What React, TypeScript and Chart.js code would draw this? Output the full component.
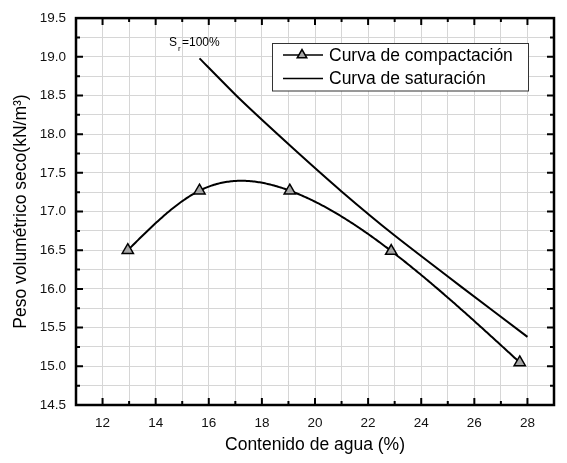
import React, { useEffect, useRef } from "react";
import { Chart, registerables } from "chart.js";

Chart.register(...registerables);

const FONT = "'Liberation Sans', Arial, sans-serif";

// Curva de compactación (contenido de agua %, peso volumétrico seco kN/m³)
const compactionW = [12.95, 15.65, 19.05, 22.87, 27.71];
const compactionG = [16.5, 17.27, 17.27, 16.49, 15.05];

// Curva de saturación (Sr = 100%)
const saturationW = [15.65, 17.15, 19.1, 21.0, 23.0, 25.5, 28.0];
const saturationG = [18.98, 18.46, 17.84, 17.26, 16.69, 16.03, 15.38];

const xTickLabels = [12, 14, 16, 18, 20, 22, 24, 26, 28];
const yTickLabels = [14.5, 15.0, 15.5, 16.0, 16.5, 17.0, 17.5, 18.0, 18.5, 19.0, 19.5];

const legendLabels = ["Curva de compactación", "Curva de saturación"];
const xTitle = "Contenido de agua (%)";
const yTitle = "Peso volumétrico seco(kN/m³)";

const MARKER_FILL = "#a6a6a6";

function drawTriangle(ctx: CanvasRenderingContext2D, x: number, y: number, r: number) {
  const edge = (3 * r) / Math.sqrt(3);
  const h = (edge * Math.sqrt(3)) / 2;
  ctx.beginPath();
  ctx.moveTo(x - edge / 2, y + h / 3);
  ctx.lineTo(x + edge / 2, y + h / 3);
  ctx.lineTo(x, y - (2 * h) / 3);
  ctx.closePath();
  ctx.fillStyle = MARKER_FILL;
  ctx.fill();
  ctx.lineWidth = 1.5;
  ctx.strokeStyle = "#000";
  ctx.stroke();
}

// natural cubic spline through the compaction points (in data space)
function naturalSpline(xs: number[], ys: number[]) {
  const n = xs.length;
  const h: number[] = [];
  for (let i = 0; i < n - 1; i++) h.push(xs[i + 1] - xs[i]);
  const M = new Array(n).fill(0);
  const a: number[] = [], b: number[] = [], c: number[] = [], d: number[] = [];
  for (let i = 1; i < n - 1; i++) {
    a.push(h[i - 1]);
    b.push(2 * (h[i - 1] + h[i]));
    c.push(h[i]);
    d.push(6 * ((ys[i + 1] - ys[i]) / h[i] - (ys[i] - ys[i - 1]) / h[i - 1]));
  }
  const m = b.length;
  for (let i = 1; i < m; i++) {
    const w = a[i] / b[i - 1];
    b[i] -= w * c[i - 1];
    d[i] -= w * d[i - 1];
  }
  const sol = new Array(m).fill(0);
  for (let i = m - 1; i >= 0; i--) {
    sol[i] = (d[i] - (i < m - 1 ? c[i] * sol[i + 1] : 0)) / b[i];
  }
  for (let i = 0; i < m; i++) M[i + 1] = sol[i];
  return (x: number) => {
    let i = 0;
    while (i < n - 2 && x > xs[i + 1]) i++;
    const hi = h[i];
    const t1 = xs[i + 1] - x;
    const t0 = x - xs[i];
    return (
      (M[i] * t1 * t1 * t1) / (6 * hi) +
      (M[i + 1] * t0 * t0 * t0) / (6 * hi) +
      (ys[i] / hi - (M[i] * hi) / 6) * t1 +
      (ys[i + 1] / hi - (M[i + 1] * hi) / 6) * t0
    );
  };
}

const splinePlugin = {
  id: "splinePlugin",
  beforeDatasetsDraw(chart: any) {
    const ctx: CanvasRenderingContext2D = chart.ctx;
    const xs = chart.scales.x;
    const ys = chart.scales.y;
    const f = naturalSpline(compactionW, compactionG);
    const x0 = compactionW[0];
    const x1 = compactionW[compactionW.length - 1];
    ctx.save();
    ctx.beginPath();
    const N = 300;
    for (let k = 0; k <= N; k++) {
      const x = x0 + ((x1 - x0) * k) / N;
      const px = xs.getPixelForValue(x);
      const py = ys.getPixelForValue(f(x));
      if (k === 0) ctx.moveTo(px, py);
      else ctx.lineTo(px, py);
    }
    ctx.strokeStyle = "#000";
    ctx.lineWidth = 2;
    ctx.lineJoin = "round";
    ctx.stroke();
    ctx.restore();
  },
};

const framePlugin = {
  id: "framePlugin",
  afterDraw(chart: any) {
    const ctx: CanvasRenderingContext2D = chart.ctx;
    const { left, right, top, bottom } = chart.chartArea;
    const xs = chart.scales.x;
    const ys = chart.scales.y;
    ctx.save();

    // tick marks on all four sides, pointing inward
    ctx.strokeStyle = "#000";
    ctx.lineWidth = 2;
    ctx.lineCap = "butt";
    for (let v = 12; v <= 28; v += 1) {
      const px = xs.getPixelForValue(v);
      const len = v % 2 === 0 ? 7 : 4;
      ctx.beginPath();
      ctx.moveTo(px, bottom);
      ctx.lineTo(px, bottom - len);
      ctx.moveTo(px, top);
      ctx.lineTo(px, top + len);
      ctx.stroke();
    }
    for (let i = 1; i < 20; i++) {
      const v = 14.5 + i * 0.25;
      const py = ys.getPixelForValue(v);
      const len = i % 2 === 0 ? 7 : 4;
      ctx.beginPath();
      ctx.moveTo(left, py);
      ctx.lineTo(left + len, py);
      ctx.moveTo(right, py);
      ctx.lineTo(right - len, py);
      ctx.stroke();
    }

    // frame
    ctx.lineWidth = 2.5;
    ctx.strokeRect(left, top, right - left, bottom - top);

    // S_r = 100% label
    ctx.fillStyle = "#000";
    ctx.textBaseline = "alphabetic";
    ctx.textAlign = "left";
    ctx.font = `12px ${FONT}`;
    ctx.fillText("S", 169, 46);
    ctx.font = `8px ${FONT}`;
    ctx.fillText("r", 178, 51);
    ctx.font = `12px ${FONT}`;
    ctx.fillText("=100%", 182, 46);

    // legend
    const bx = 272.5, by = 43.5, bw = 256, bh = 47.5;
    ctx.fillStyle = "#fff";
    ctx.fillRect(bx, by, bw, bh);
    ctx.lineWidth = 1;
    ctx.strokeStyle = "#333";
    ctx.strokeRect(bx, by, bw, bh);

    const rows = [55, 78.5];
    rows.forEach((ry, i) => {
      ctx.strokeStyle = "#000";
      ctx.lineWidth = 1.5;
      ctx.beginPath();
      ctx.moveTo(283, ry);
      ctx.lineTo(323, ry);
      ctx.stroke();
      if (i === 0) drawTriangle(ctx, 302, ry, 5.5);
      ctx.fillStyle = "#000";
      ctx.font = `17.5px ${FONT}`;
      ctx.textBaseline = "middle";
      ctx.fillText(legendLabels[i], 329, ry + 1);
    });

    ctx.restore();
  },
};

export default function App() {
  const ref = useRef<HTMLCanvasElement>(null);

  useEffect(() => {
    if (!ref.current) return;
    const chart = new Chart(ref.current, {
      type: "line",
      data: {
        datasets: [
          {
            label: legendLabels[0],
            data: compactionW.map((w, i) => ({ x: w, y: compactionG[i] })),
            showLine: false,
            borderColor: "#000",
            borderWidth: 2,
            pointStyle: "triangle",
            pointRadius: 6.5,
            pointBackgroundColor: MARKER_FILL,
            pointBorderColor: "#000",
            pointBorderWidth: 1.5,
            fill: false,
          },
          {
            label: legendLabels[1],
            data: saturationW.map((w, i) => ({ x: w, y: saturationG[i] })),
            borderColor: "#000",
            borderWidth: 2,
            tension: 0.15,
            pointRadius: 0,
            fill: false,
          },
        ],
      },
      options: {
        animation: false,
        responsive: true,
        maintainAspectRatio: false,
        layout: { padding: { top: 16, right: 13, left: 0, bottom: 0 } },
        plugins: {
          legend: { display: false },
          tooltip: { enabled: false },
        },
        scales: {
          x: {
            type: "linear",
            min: 11,
            max: 29,
            afterFit: (s: any) => {
              s.height = 58;
            },
            grid: { color: "#d6d6d6", lineWidth: 1, drawTicks: false },
            border: { display: false },
            ticks: {
              stepSize: 1,
              autoSkip: false,
              maxRotation: 0,
              padding: 10,
              color: "#111",
              font: { family: FONT, size: 13.5 },
              callback: (v: any) => (xTickLabels.includes(Number(v)) ? String(v) : ""),
            },
            title: {
              display: true,
              text: xTitle,
              color: "#000",
              font: { family: FONT, size: 17.5 },
              padding: { top: 0, bottom: 7 },
            },
          },
          y: {
            type: "linear",
            min: 14.5,
            max: 19.5,
            afterFit: (s: any) => {
              s.width = 76;
            },
            grid: { color: "#d6d6d6", lineWidth: 1, drawTicks: false },
            border: { display: false },
            ticks: {
              stepSize: 0.25,
              autoSkip: false,
              padding: 10,
              color: "#111",
              font: { family: FONT, size: 13.5 },
              callback: (v: any) => {
                const n = Number(v);
                const hit = yTickLabels.find((t) => Math.abs(t - n) < 1e-6);
                return hit !== undefined ? hit.toFixed(1) : "";
              },
            },
            title: {
              display: true,
              text: yTitle,
              color: "#000",
              font: { family: FONT, size: 17.5 },
              padding: { top: 11, bottom: 0 },
            },
          },
        },
      },
      plugins: [splinePlugin, framePlugin],
    });
    return () => chart.destroy();
  }, []);

  return (
    <div style={{ position: "fixed", left: 0, top: 0, width: 567, height: 463, background: "#fff" }}>
      <canvas ref={ref} />
    </div>
  );
}
